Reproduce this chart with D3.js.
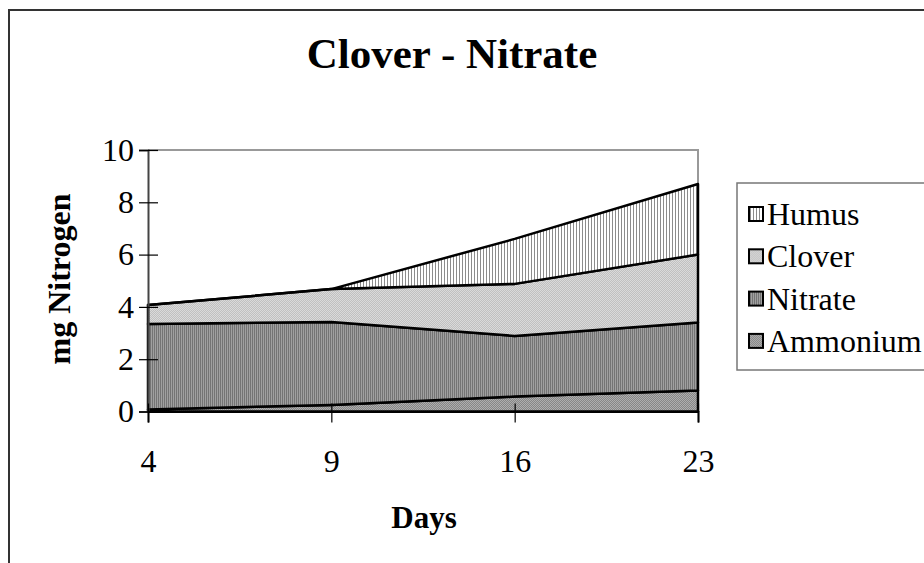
<!DOCTYPE html>
<html>
<head>
<meta charset="utf-8">
<script src="https://cdn.jsdelivr.net/npm/d3@7"></script>
<style>
  body { margin: 0; background: #fff; }
  svg { display: block; font-family: "Liberation Serif", "Times New Roman", serif; }
</style>
</head>
<body>
<svg id="chart" width="924" height="563"></svg>
<script>
// data (mg Nitrogen, not cumulative)
const days = ["4", "9", "16", "23"];
const ammonium = [0.08, 0.25, 0.57, 0.8];
const nitrate = [3.27, 3.17, 2.32, 2.6];
const clover = [0.72, 1.26, 1.99, 2.6];
const humus = [0, 0, 1.72, 2.7];
const seriesNames = ["Ammonium", "Nitrate", "Clover", "Humus"];
const yTicks = [0, 2, 4, 6, 8, 10];

const svg = d3.select("#chart");
const defs = svg.append("defs");

// fill patterns, roughly like the old excel hatches
function stripes(id, w, bg, fg, fw) {
  const p = defs.append("pattern").attr("id", id)
    .attr("patternUnits", "userSpaceOnUse").attr("width", w).attr("height", 4);
  p.append("rect").attr("width", w).attr("height", 4).attr("fill", bg);
  p.append("rect").attr("width", fw).attr("height", 4).attr("fill", fg);
}
function checker(id, a, b) {
  const p = defs.append("pattern").attr("id", id)
    .attr("patternUnits", "userSpaceOnUse").attr("width", 2).attr("height", 2);
  p.append("rect").attr("width", 2).attr("height", 2).attr("fill", a);
  p.append("rect").attr("width", 1).attr("height", 1).attr("fill", b);
  p.append("rect").attr("x", 1).attr("y", 1).attr("width", 1).attr("height", 1).attr("fill", b);
}
stripes("pHumus", 3, "#ffffff", "#8c8c8c", 1);
checker("pClover", "#c0c0c0", "#dadada");
stripes("pNitrate", 2, "#a0a0a0", "#747474", 1);
checker("pAmmonium", "#868686", "#aeaeae");
const fills = { Ammonium: "url(#pAmmonium)", Nitrate: "url(#pNitrate)", Clover: "url(#pClover)", Humus: "url(#pHumus)" };

// outer chart border (runs off the picture right and bottom)
svg.append("rect").attr("x", 9).attr("y", 10).attr("width", 940).attr("height", 600)
  .attr("fill", "none").attr("stroke", "#333").attr("stroke-width", 2);

const x = d3.scalePoint().domain(days).range([148, 698]);
const y = d3.scaleLinear().domain([0, 10]).range([411.5, 150]);

const table = days.map((d, i) => ({
  day: d, Ammonium: ammonium[i], Nitrate: nitrate[i], Clover: clover[i], Humus: humus[i]
}));
const stacked = d3.stack().keys(seriesNames)(table);

// plot area frame (top and right in gray)
svg.append("path").attr("d", `M148,150H698V411.5`)
  .attr("fill", "none").attr("stroke", "#999").attr("stroke-width", 2);

const area = d3.area()
  .x(d => x(d.data.day))
  .y0(d => y(d[0]))
  .y1(d => y(d[1]));

svg.append("g").selectAll("path")
  .data(stacked)
  .enter().append("path")
  .attr("d", area)
  .attr("fill", d => fills[d.key])
  .attr("stroke", "#000")
  .attr("stroke-width", 2.5)
  .attr("stroke-linejoin", "round");

// axes
const yAxis = svg.append("g").attr("transform", "translate(148,0)")
  .call(d3.axisLeft(y).tickValues(yTicks).tickSize(9).tickPadding(5));
const xAxis = svg.append("g").attr("transform", "translate(0,411.5)")
  .call(d3.axisBottom(x).tickSize(11).tickPadding(27));
[yAxis, xAxis].forEach(a => {
  a.select(".domain").attr("stroke", "#444").attr("stroke-width", 2);
  a.selectAll(".tick line").attr("stroke", "#000").attr("stroke-width", 1.2);
  a.selectAll("text").attr("font-family", "Liberation Serif").attr("font-size", 32).attr("fill", "#000");
});
// y tick marks cross the axis a little
yAxis.selectAll(".tick line").attr("x1", 10);
xAxis.selectAll(".tick line").attr("y1", -8);
xAxis.select(".domain").attr("stroke", "#000");

// titles
svg.append("text").attr("x", 452).attr("y", 68).attr("text-anchor", "middle")
  .attr("font-size", 43).attr("font-weight", "bold").text("Clover - Nitrate");
svg.append("text").attr("x", 424).attr("y", 528).attr("text-anchor", "middle")
  .attr("font-size", 31).attr("font-weight", "bold").text("Days");
svg.append("text").attr("transform", "translate(70,279) rotate(-90)").attr("text-anchor", "middle")
  .attr("font-size", 32).attr("font-weight", "bold").text("mg Nitrogen");

// legend
const legend = svg.append("g");
legend.append("rect").attr("x", 737).attr("y", 183).attr("width", 200).attr("height", 187)
  .attr("fill", "#fff").attr("stroke", "#777").attr("stroke-width", 1.5);
const legendItems = seriesNames.slice().reverse();
const row = legend.selectAll("g.item").data(legendItems).enter().append("g")
  .attr("transform", (d, i) => `translate(0,${214 + i * 42.3})`);
row.append("rect").attr("x", 749).attr("y", -7).attr("width", 14).attr("height", 14)
  .attr("fill", d => fills[d]).attr("stroke", "#000").attr("stroke-width", 2);
row.append("text").attr("x", 767).attr("y", 11).attr("font-size", 32).text(d => d);
</script>
</body>
</html>
